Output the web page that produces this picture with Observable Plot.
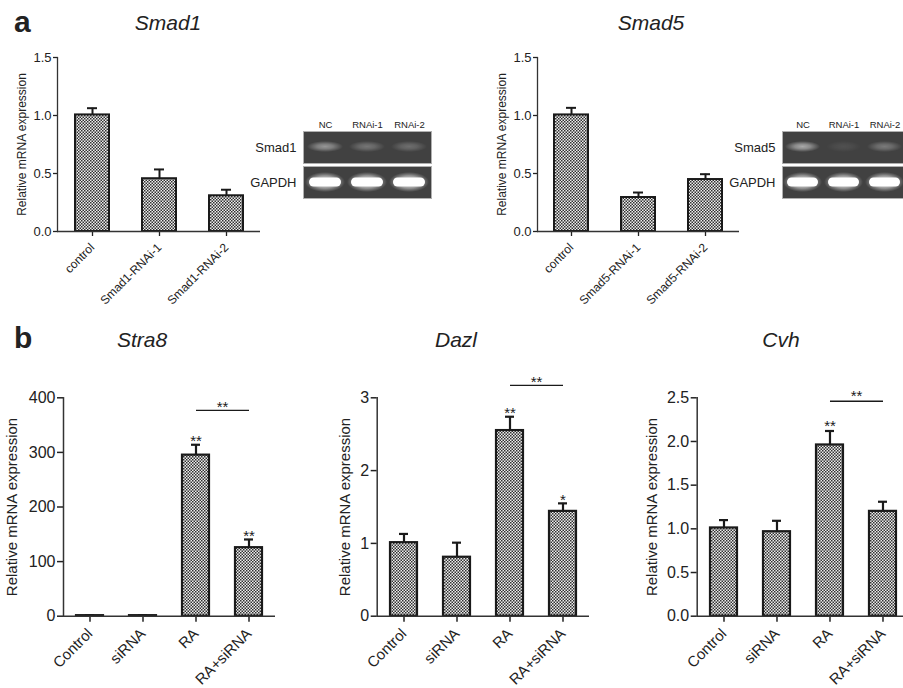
<!DOCTYPE html>
<html><head><meta charset="utf-8">
<script src="https://cdn.jsdelivr.net/npm/d3@7"></script>
<script src="https://cdn.jsdelivr.net/npm/@observablehq/plot@0.6"></script>
<style>
html,body{margin:0;padding:0;background:#fff;overflow:hidden}
#fig{position:relative;width:903px;height:688px;overflow:hidden;font-family:"Liberation Sans",Arial,sans-serif;color:#222}
.p{position:absolute}
.p svg{max-width:none!important;display:block}
.title{position:absolute;font-style:italic;font-size:21px;line-height:1;white-space:nowrap;transform:translateX(-50%)}
.letter{position:absolute;font-weight:bold;font-size:30px;line-height:1}
</style></head><body>
<svg width="0" height="0" style="position:absolute">
  <defs>
    <pattern id="chk" width="3" height="3" patternUnits="userSpaceOnUse">
      <rect width="3" height="3" fill="#eeeeee"/>
      <rect width="1.5" height="1.5" fill="#303030"/>
      <rect x="1.5" y="1.5" width="1.5" height="1.5" fill="#303030"/>
    </pattern>
    <radialGradient id="bandGlow" cx="0.5" cy="0.5" r="0.5">
      <stop offset="0" stop-color="#fff" stop-opacity="1"/>
      <stop offset="0.45" stop-color="#fff" stop-opacity="0.7"/>
      <stop offset="1" stop-color="#fff" stop-opacity="0"/>
    </radialGradient>
    <radialGradient id="bandHalo" cx="0.5" cy="0.5" r="0.5">
      <stop offset="0" stop-color="#fff" stop-opacity="0.9"/>
      <stop offset="0.6" stop-color="#e8e8e8" stop-opacity="0.55"/>
      <stop offset="1" stop-color="#cccccc" stop-opacity="0"/>
    </radialGradient>
  </defs>
</svg>
<div id="fig"></div>
<script>
// ---------- data ----------
const smad1Groups = ["control", "Smad1-RNAi-1", "Smad1-RNAi-2"];
const smad1Mean = [1.005, 0.455, 0.308];
const smad1Err = [0.058, 0.080, 0.052];

const smad5Groups = ["control", "Smad5-RNAi-1", "Smad5-RNAi-2"];
const smad5Mean = [1.005, 0.293, 0.448];
const smad5Err = [0.061, 0.043, 0.046];

const knockTicks = [0, 0.5, 1.0, 1.5];

const treatGroups = ["Control", "siRNA", "RA", "RA+siRNA"];
const stra8Mean = [1.0, 1.0, 295, 125.5];
const stra8Err = [0.5, 0.5, 19, 15];
const stra8Ticks = [0, 100, 200, 300, 400];
const stra8StarGroups = ["RA", "RA+siRNA"];
const stra8StarY = [328, 153];
const stra8StarText = ["**", "**"];
const stra8Bracket = {from: "RA", to: "RA+siRNA", y: 377, text: "**", textY: 390};

const dazlMean = [1.01, 0.81, 2.55, 1.44];
const dazlErr = [0.12, 0.20, 0.19, 0.11];
const dazlTicks = [0, 1, 2, 3];
const dazlStarGroups = ["RA", "RA+siRNA"];
const dazlStarY = [2.85, 1.65];
const dazlStarText = ["**", "*"];
const dazlBracket = {from: "RA", to: "RA+siRNA", y: 3.17, text: "**", textY: 3.27};

const cvhMean = [1.01, 0.967, 1.96, 1.20];
const cvhErr = [0.09, 0.125, 0.16, 0.11];
const cvhTicks = [0, 0.5, 1.0, 1.5, 2.0, 2.5];
const cvhStarGroups = ["RA"];
const cvhStarY = [2.22];
const cvhStarText = ["**"];
const cvhBracket = {from: "RA", to: "RA+siRNA", y: 2.46, text: "**", textY: 2.56};

const gelLanes = ["NC", "RNAi-1", "RNAi-2"];
const smad1Band = [0.45, 0.28, 0.24];
const smad5Band = [0.55, 0.08, 0.3];
const gapdhBand = [1, 1, 1];

const yLabel = "Relative mRNA expression";

// ---------- helpers ----------
const FONT = '"Liberation Sans", Arial, sans-serif';
const fig = document.getElementById("fig");
function place(node, left, top, w) {
  const d = document.createElement("div");
  d.className = "p";
  d.style.left = left + "px"; d.style.top = top + "px"; d.style.width = w + "px";
  d.appendChild(node); fig.appendChild(d);
}
function addText(txt, cls, left, top) {
  const d = document.createElement("div");
  d.className = cls; d.textContent = txt;
  d.style.left = left + "px"; d.style.top = top + "px";
  fig.appendChild(d);
}

function barPanel(o) {
  const data = o.cats.map((c, i) => ({cat: c, mean: o.mean[i], top: o.mean[i] + o.err[i]}));
  const marks = [
    Plot.axisY({ticks: o.ticks, tickFormat: o.fmt, fontSize: o.tickFont, tickSize: o.tickSize, tickPadding: 2, strokeWidth: o.axisW, label: null}),
    Plot.axisX({tickRotate: -45, fontSize: o.xFont, tickSize: o.xTickSize, tickPadding: o.xPad, strokeWidth: o.axisW, label: null}),
    Plot.ruleX(data, {x: "cat", y1: "mean", y2: "top", stroke: "#1a1a1a", strokeWidth: o.errW}),
    Plot.tickY(data, {x: "cat", y: "top", insetLeft: o.capInset, insetRight: o.capInset, stroke: "#1a1a1a", strokeWidth: o.errW}),
    Plot.barY(data, {x: "cat", y: "mean", fill: "url(#chk)", stroke: "#1a1a1a", strokeWidth: o.barW}),
    Plot.frame({anchor: "left", stroke: "#333", strokeWidth: o.axisW}),
    Plot.ruleY([0], {stroke: "#333", strokeWidth: o.axisW}),
    Plot.text([o.ylabel], {frameAnchor: "left", textAnchor: "middle", lineAnchor: "middle", dx: o.labelDx, rotate: -90, fontSize: o.labelFont, fill: "#222"})
  ];
  if (o.starGroups) {
    const stars = o.starGroups.map((g, i) => ({cat: g, y: o.starY[i], s: o.starText[i]}));
    marks.push(Plot.text(stars, {x: "cat", y: "y", text: "s", fontSize: 15, dy: 4, fill: "#1a1a1a"}));
  }
  if (o.bracket) {
    const b = o.bracket;
    marks.push(Plot.link([b], {x1: "from", x2: "to", y1: "y", y2: "y", stroke: "#1a1a1a", strokeWidth: 1.4}));
    // label centred over the bracket: anchored on the first group, shifted by half a band step
    marks.push(Plot.text([b], {x: "from", y: "textY", text: "text", fontSize: 15, dy: 4, dx: o.step / 2, fill: "#1a1a1a"}));
  }
  return Plot.plot({
    width: o.W, height: o.H,
    marginTop: o.mt, marginBottom: o.mb, marginLeft: o.ml, marginRight: o.mr,
    style: {fontFamily: FONT, color: "#222", background: "transparent", overflow: "visible", maxWidth: "none"},
    x: {domain: o.cats, paddingInner: 0.5, paddingOuter: 0.25},
    y: {domain: o.domain},
    marks
  });
}

function gelPanel(o) {
  const rows = [o.target, "GAPDH"];
  const tgt = gelLanes.map((l, i) => ({lane: l, row: o.target, v: o.vals[i]}));
  const gap = gelLanes.map((l, i) => ({lane: l, row: "GAPDH", v: gapdhBand[i]}));
  return Plot.plot({
    width: o.W, height: 89,
    marginLeft: o.ml, marginRight: 1, marginTop: 21, marginBottom: 1,
    style: {fontFamily: FONT, color: "#222", background: "transparent", overflow: "visible", maxWidth: "none"},
    x: {domain: gelLanes, padding: 0},
    fy: {domain: rows, paddingInner: 0.09, paddingOuter: 0},
    opacity: {type: "identity"},
    marks: [
      Plot.frame({fill: "#414141", stroke: "#b0b0b0", strokeWidth: 1}),
      Plot.cell(tgt, {x: "lane", fy: "row", fill: "url(#bandGlow)", fillOpacity: "v", insetLeft: 3, insetRight: 3, insetTop: 10, insetBottom: 11}),
      Plot.cell(gap, {x: "lane", fy: "row", fill: "url(#bandHalo)", fillOpacity: "v", insetLeft: 1, insetRight: 1, insetTop: 6, insetBottom: 6}),
      Plot.cell(gap, {x: "lane", fy: "row", fill: "#ffffff", fillOpacity: "v", insetLeft: 5, insetRight: 5, insetTop: 11.5, insetBottom: 11.5, rx: 4.5}),
      Plot.axisX({anchor: "top", tickSize: 0, tickPadding: 4, fontSize: 9.5, label: null}),
      Plot.axisFy({anchor: "left", tickSize: 0, tickPadding: 7, fontSize: 13, label: null})
    ]
  });
}

// ---------- panel a ----------
const aCommon = {ticks: knockTicks, fmt: d3.format(".1f"), domain: [0, 1.5], W: 270, H: 290, mt: 17, mb: 99, ml: 57,
  tickFont: 13, tickSize: 4, xFont: 12, xTickSize: 5, xPad: 9, axisW: 1.3, errW: 2, barW: 2, capInset: 12,
  labelFont: 12, labelDx: -35, ylabel: yLabel};
place(barPanel({...aCommon, cats: smad1Groups, mean: smad1Mean, err: smad1Err, mr: 10}), 0, 40, 270);
place(barPanel({...aCommon, cats: smad5Groups, mean: smad5Mean, err: smad5Err, mr: 11}), 480, 40, 270);
place(gelPanel({target: "Smad1", vals: smad1Band, W: 192, ml: 63}), 240, 110, 192);
place(gelPanel({target: "Smad5", vals: smad5Band, W: 186, ml: 62}), 720, 110, 186);

// ---------- panel b ----------
const bCommon = {cats: treatGroups, H: 328, mt: 37.3, mb: 72.3, tickFont: 16, tickSize: 6, xFont: 15, xTickSize: 6, xPad: 9,
  axisW: 1.5, errW: 2.2, barW: 2.2, capInset: 9, labelFont: 15, ylabel: yLabel, step: 53};

place(barPanel({...bCommon, W: 285, ml: 63, mr: 10, mean: stra8Mean, err: stra8Err, domain: [0, 400], ticks: stra8Ticks, fmt: d3.format("d"),
  labelDx: -51, starGroups: stra8StarGroups, starY: stra8StarY, starText: stra8StarText, bracket: stra8Bracket}), 0, 360, 285);
place(barPanel({...bCommon, W: 299, ml: 76.7, mr: 10, mean: dazlMean, err: dazlErr, domain: [0, 3], ticks: dazlTicks, fmt: d3.format("d"),
  labelDx: -31.7, starGroups: dazlStarGroups, starY: dazlStarY, starText: dazlStarText, bracket: dazlBracket}), 300, 360, 299);
place(barPanel({...bCommon, W: 318.7, ml: 96.7, mr: 10, mean: cvhMean, err: cvhErr, domain: [0, 2.5], ticks: cvhTicks, fmt: d3.format(".1f"),
  labelDx: -44.7, starGroups: cvhStarGroups, starY: cvhStarY, starText: cvhStarText, bracket: cvhBracket}), 600, 360, 318.7);

// ---------- titles ----------
addText("a", "letter", 14, 7);
addText("b", "letter", 14, 323);
addText("Smad1", "title", 168, 12.2);
addText("Smad5", "title", 651, 12.2);
addText("Stra8", "title", 142, 329.2);
addText("Dazl", "title", 456, 329.2);
addText("Cvh", "title", 781, 329.2);
</script>
</body></html>
